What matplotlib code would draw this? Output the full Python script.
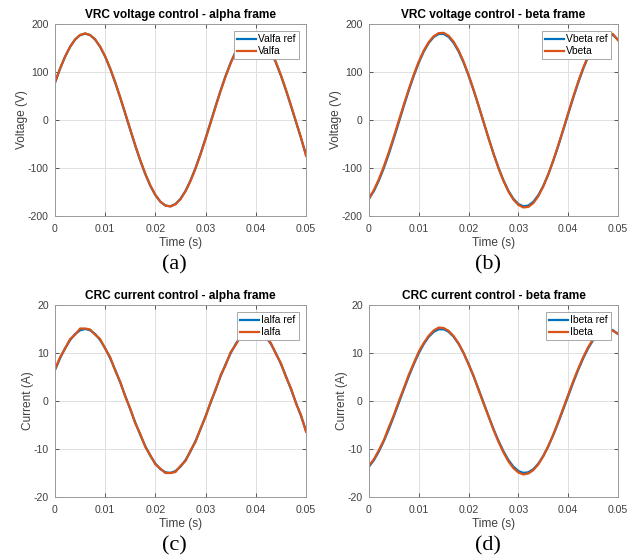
import numpy as np
import matplotlib
matplotlib.use("Agg")
import matplotlib.pyplot as plt

plt.rcParams['font.family'] = ['Liberation Sans', 'DejaVu Sans']
plt.rcParams['axes.unicode_minus'] = False

# time axis, 1 ms steps over 50 ms
time_ms = list(range(0, 51))

valfa_ref = [77.6, 106.5, 131.7, 152.2, 167.5, 176.8, 180.0, 176.8, 167.5, 152.2,
             131.7, 106.5, 77.6, 45.9, 12.7, -21.0, -54.0, -85.1, -113.1, -137.3,
             -156.6, -170.4, -178.2, -179.8, -175.1, -164.2, -147.6, -125.8, -99.6, -69.9,
             -37.7, -4.3, 29.4, 62.0, 92.4, 119.6, 142.6, 160.5, 172.9, 179.2,
             179.2, 172.9, 160.6, 142.6, 119.6, 92.5, 62.1, 29.5, -4.1, -37.6, -72.0]
valfa = [78.5, 107.2, 132.0, 152.6, 167.9, 177.2, 180.4, 177.1, 167.9, 152.8,
         132.5, 107.4, 78.8, 47.2, 14.0, -19.6, -52.8, -84.0, -112.2, -136.6,
         -156.1, -170.2, -178.3, -180.1, -175.6, -164.9, -148.5, -127.0, -101.0, -71.5,
         -39.4, -6.0, 27.8, 60.6, 91.2, 118.6, 141.9, 160.1, 172.7, 179.2,
         179.4, 173.3, 161.2, 143.4, 120.6, 93.6, 63.3, 30.8, -2.8, -36.3, -74.5]

vbeta_ref = [-164.2, -147.6, -125.7, -99.5, -69.9, -37.7, -4.2, 29.4, 62.0, 92.4,
             119.6, 142.6, 160.6, 172.9, 179.2, 179.2, 172.9, 160.6, 142.6, 119.6,
             92.4, 62.0, 29.4, -4.2, -37.7, -69.9, -99.5, -125.7, -147.6, -164.2,
             -175.1, -179.8, -178.2, -170.4, -156.6, -137.3, -113.2, -85.1, -54.1, -21.1,
             12.6, 45.9, 77.5, 106.4, 131.6, 152.2, 167.5, 176.8, 180.0, 176.8, 167.5]
vbeta = [-163.0, -145.5, -122.8, -96.2, -66.4, -34.3, -1.0, 32.4, 64.6, 94.8,
         121.8, 144.6, 162.4, 174.6, 181.0, 181.6, 175.4, 163.0, 144.8, 121.4,
         93.8, 63.0, 30.1, -3.8, -37.6, -70.2, -100.3, -126.8, -149.0, -165.8,
         -177.0, -182.2, -181.0, -173.2, -158.6, -138.4, -113.3, -84.2, -52.6, -19.3,
         14.6, 48.0, 79.6, 108.4, 133.4, 153.8, 169.0, 178.4, 182.2, 179.0, 166.0]

ialfa_ref = [6.47, 8.88, 10.98, 12.68, 13.96, 14.73, 15.00, 14.73, 13.96, 12.68,
             10.98, 8.88, 6.47, 3.83, 1.06, -1.75, -4.50, -7.09, -9.43, -11.44,
             -13.05, -14.20, -14.85, -14.98, -14.59, -13.68, -12.30, -10.48, -8.30, -5.83,
             -3.14, -0.36, 2.45, 5.17, 7.70, 9.97, 11.88, 13.38, 14.41, 14.93,
             14.93, 14.41, 13.38, 11.88, 9.97, 7.71, 5.18, 2.46, -0.34, -3.13, -6.20]
ialfa = [6.60, 9.10, 10.90, 12.90, 13.80, 15.10, 15.10, 14.90, 13.80, 12.90,
         10.90, 9.10, 6.30, 4.00, 0.90, -1.60, -4.70, -6.90, -9.60, -11.30,
         -13.20, -14.10, -15.00, -15.00, -14.80, -13.50, -12.50, -10.30, -8.50, -5.70,
         -3.30, -0.20, 2.30, 5.40, 7.50, 10.20, 11.70, 13.60, 14.30, 15.00,
         14.80, 14.60, 13.20, 12.10, 9.80, 7.90, 5.00, 2.70, -0.50, -2.90, -6.40]

ibeta_ref = [-13.68, -12.30, -10.48, -8.29, -5.83, -3.14, -0.35, 2.45, 5.17, 7.70,
             9.97, 11.88, 13.38, 14.41, 14.93, 14.93, 14.41, 13.38, 11.88, 9.97,
             7.70, 5.17, 2.45, -0.35, -3.14, -5.83, -8.29, -10.48, -12.30, -13.68,
             -14.59, -14.98, -14.85, -14.20, -13.05, -11.44, -9.43, -7.09, -4.51, -1.76,
             1.05, 3.83, 6.46, 8.87, 10.97, 12.68, 13.96, 14.73, 15.00, 14.73, 13.96]
ibeta = [-13.50, -12.10, -10.20, -8.10, -5.40, -2.90, 0.00, 2.70, 5.50, 7.90,
         10.30, 12.10, 13.60, 14.70, 15.30, 15.20, 14.60, 13.50, 12.00, 10.00,
         7.60, 5.20, 2.30, -0.50, -3.20, -6.00, -8.50, -10.70, -12.60, -14.00,
         -14.90, -15.30, -15.10, -14.40, -13.20, -11.50, -9.40, -7.00, -4.30, -1.50,
         1.30, 4.10, 6.70, 9.10, 11.20, 12.90, 14.10, 14.90, 15.20, 14.60, 14.00]

xticks = [0, 0.01, 0.02, 0.03, 0.04, 0.05]
xticklabels = ['0', '0.01', '0.02', '0.03', '0.04', '0.05']

blue = '#0072BD'
orange = '#D95319'
axcol = '#404040'


def panel(rect, ref, meas, title, ylabel, names, ylim, yticks, tag):
    ax = fig.add_axes(rect)
    t = np.array(time_ms) / 1000.0
    ax.plot(t, ref, color=blue, lw=1.6, label=names[0])
    ax.plot(t, meas, color=orange, lw=1.6, label=names[1])
    ax.set_xlim(0, 0.05)
    ax.set_ylim(*ylim)
    ax.set_xticks(xticks)
    ax.set_xticklabels(xticklabels)
    ax.set_yticks(yticks)
    ax.grid(True, color='#e0e0e0', lw=0.7)
    ax.tick_params(direction='in', length=3, width=0.6, colors=axcol,
                   labelsize=7.6, top=True, right=True)
    ax.tick_params(axis='x', pad=5.5)
    ax.tick_params(axis='y', pad=4.5)
    for s in ax.spines.values():
        s.set_color('#9a9a9a')
        s.set_linewidth(0.7)
    ax.set_title(title, fontsize=8.6, fontweight='bold', color='black', pad=4)
    ax.set_xlabel('Time (s)', fontsize=8.6, color=axcol, labelpad=2.5)
    ax.set_ylabel(ylabel, fontsize=8.6, color=axcol, labelpad=0)
    leg = ax.legend(loc='upper right', fontsize=7.4, handlelength=1.85,
                    handletextpad=0.2, borderpad=0.3, labelspacing=0.2,
                    fancybox=False, framealpha=1.0, borderaxespad=0.7)
    leg.get_frame().set_edgecolor('#9a9a9a')
    leg.get_frame().set_linewidth(0.6)
    x0 = rect[0] + rect[2] / 2 - 0.009
    fig.text(x0, rect[1] - 0.0875, tag, fontsize=16, family='Liberation Serif',
             ha='center', va='center', color='black')
    return ax


fig = plt.figure(figsize=(6.42, 5.6), dpi=100)

h = 192 / 560
panel([55 / 642, 1 - 216 / 560, 251 / 642, h], valfa_ref, valfa,
      'VRC voltage control - alpha frame', 'Voltage (V)', ['Valfa ref', 'Valfa'],
      (-200, 200), [-200, -100, 0, 100, 200], '(a)')
panel([369 / 642, 1 - 216 / 560, 249 / 642, h], vbeta_ref, vbeta,
      'VRC voltage control - beta frame', 'Voltage (V)', ['Vbeta ref', 'Vbeta'],
      (-200, 200), [-200, -100, 0, 100, 200], '(b)')
panel([55 / 642, 1 - 497 / 560, 251 / 642, h], ialfa_ref, ialfa,
      'CRC current control - alpha frame', 'Current (A)', ['Ialfa ref', 'Ialfa'],
      (-20, 20), [-20, -10, 0, 10, 20], '(c)')
panel([369 / 642, 1 - 497 / 560, 249 / 642, h], ibeta_ref, ibeta,
      'CRC current control - beta frame', 'Current (A)', ['Ibeta ref', 'Ibeta'],
      (-20, 20), [-20, -10, 0, 10, 20], '(d)')

fig.savefig('out.png', dpi=100)
